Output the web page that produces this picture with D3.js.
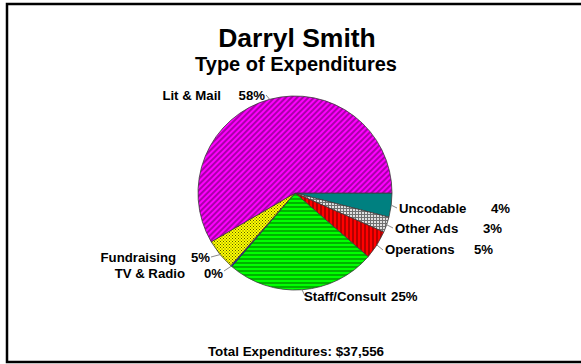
<!DOCTYPE html>
<html><head><meta charset="utf-8">
<script src="https://cdn.jsdelivr.net/npm/d3@7"></script>
<style>
html,body{margin:0;padding:0;background:#fff;}
svg{display:block;}
text{font-family:"Liberation Sans",Arial,sans-serif;font-weight:bold;fill:#000;}
</style></head>
<body>
<svg id="chart" width="581" height="364"></svg>
<script>
// ---- data ----
const title = "Darryl Smith";
const subtitle = "Type of Expenditures";
const footer = "Total Expenditures: $37,556";
const categories = ["Uncodable","Other Ads","Operations","Staff/Consult","TV & Radio","Fundraising","Lit & Mail"];
const shares = [4.0, 2.6, 4.8, 24.9, 0.2, 5.1, 58.4];
const pctLabels = ["4%","3%","5%","25%","0%","5%","58%"];

// ---- layout / style ----
const cx = 295, cy = 193, R = 97;
const LFS = "13.2px";
const fills = ["url(#pUnc)","url(#pOther)","url(#pOps)","url(#pStaff)","url(#pTV)","url(#pFund)","url(#pLit)"];
// label placements: side, name x, pct x, baseline, leader start
const labelLayout = [
  {side:"r", nx:399, px:491, y:212.5, lx:397, ly:208},
  {side:"r", nx:395, px:483, y:232.5, lx:393, ly:228},
  {side:"r", nx:385, px:474, y:254,   lx:383, ly:250},
  {side:"s", nx:304, px:null, y:301,  lx:305, ly:296},
  {side:"l", nx:185, px:223, y:277.5, lx:224, ly:271},
  {side:"l", nx:176, px:210, y:261.5, lx:211, ly:257},
  {side:"l", nx:221, px:265, y:99.5,  lx:266, ly:95}
];

const svg = d3.select("#chart");
const defs = svg.append("defs");

function stripePattern(id, bg, fg, angle, size, sw){
  const p = defs.append("pattern").attr("id",id).attr("patternUnits","userSpaceOnUse")
    .attr("width",size).attr("height",size).attr("patternTransform",`rotate(${angle})`);
  p.append("rect").attr("width",size).attr("height",size).attr("fill",bg);
  p.append("line").attr("x1",size/2).attr("y1",0).attr("x2",size/2).attr("y2",size)
    .attr("stroke",fg).attr("stroke-width",sw);
}
stripePattern("pLit","#ff00ff","#7a007a",45,4,1.3);
stripePattern("pStaff","#00ff00","#008800",90,4,1.3);
stripePattern("pOps","#ff0000","#800000",0,4,1.2);
{
  const p = defs.append("pattern").attr("id","pFund").attr("patternUnits","userSpaceOnUse").attr("width",3).attr("height",3);
  p.append("rect").attr("width",3).attr("height",3).attr("fill","#ffff00");
  p.append("rect").attr("width",1).attr("height",1).attr("fill","#5a5a00");
  p.append("rect").attr("x",1.5).attr("y",1.5).attr("width",1).attr("height",1).attr("fill","#5a5a00");
}
{
  const p = defs.append("pattern").attr("id","pOther").attr("patternUnits","userSpaceOnUse").attr("width",3).attr("height",3);
  p.append("rect").attr("width",3).attr("height",3).attr("fill","#e0e0e0");
  p.append("rect").attr("width",3).attr("height",1).attr("fill","#707070");
  p.append("rect").attr("width",1).attr("height",3).attr("fill","#707070");
}
{
  const p = defs.append("pattern").attr("id","pUnc").attr("patternUnits","userSpaceOnUse").attr("width",4).attr("height",4);
  p.append("rect").attr("width",4).attr("height",4).attr("fill","#008080");
}
{
  const p = defs.append("pattern").attr("id","pTV").attr("patternUnits","userSpaceOnUse").attr("width",4).attr("height",4);
  p.append("rect").attr("width",4).attr("height",4).attr("fill","#0000ff");
}

// frame
svg.append("rect").attr("x",7).attr("y",4).attr("width",620).attr("height",358)
  .attr("fill","#fff").attr("stroke","#000").attr("stroke-width",2.5);

// titles
svg.append("text").attr("x",297).attr("y",47).attr("text-anchor","middle")
  .style("font-size","26.5px").text(title);
svg.append("text").attr("x",296).attr("y",71).attr("text-anchor","middle")
  .style("font-size","20px").text(subtitle);
svg.append("text").attr("x",296).attr("y",356).attr("text-anchor","middle")
  .style("font-size","13.4px").text(footer);

// pie
const pie = d3.pie().sort(null).value(d=>d)
  .startAngle(Math.PI/2).endAngle(Math.PI/2 + 2*Math.PI);
const arcs = pie(shares);
const arc = d3.arc().innerRadius(0).outerRadius(R);
const g = svg.append("g").attr("transform",`translate(${cx},${cy})`);
g.selectAll("path.slice").data(arcs).join("path").attr("class","slice")
  .attr("d",arc).attr("fill",(d,i)=>fills[i])
  .attr("stroke","#3a3a3a").attr("stroke-width",0.8);

// labels + leaders
arcs.forEach((d,i)=>{
  const L = labelLayout[i];
  const mid = (d.startAngle + d.endAngle)/2;
  const ex = cx + R*Math.sin(mid), ey = cy - R*Math.cos(mid);
  svg.append("line").attr("x1",L.lx).attr("y1",L.ly).attr("x2",ex).attr("y2",ey)
    .attr("stroke","#8a8a8a").attr("stroke-width",1);
  const nameAnchor = L.side==="l" ? "end" : "start";
  const pctAnchor = L.side==="l" ? "end" : "start";
  const nt = svg.append("text").attr("x",L.nx).attr("y",L.y).attr("text-anchor",nameAnchor).style("font-size",LFS).text(categories[i]);
  let px = L.px;
  if(px===null) px = L.nx + nt.node().getComputedTextLength() + 5;
  svg.append("text").attr("x",px).attr("y",L.y).attr("text-anchor",pctAnchor).style("font-size",LFS).text(pctLabels[i]);
});
</script>
</body></html>
